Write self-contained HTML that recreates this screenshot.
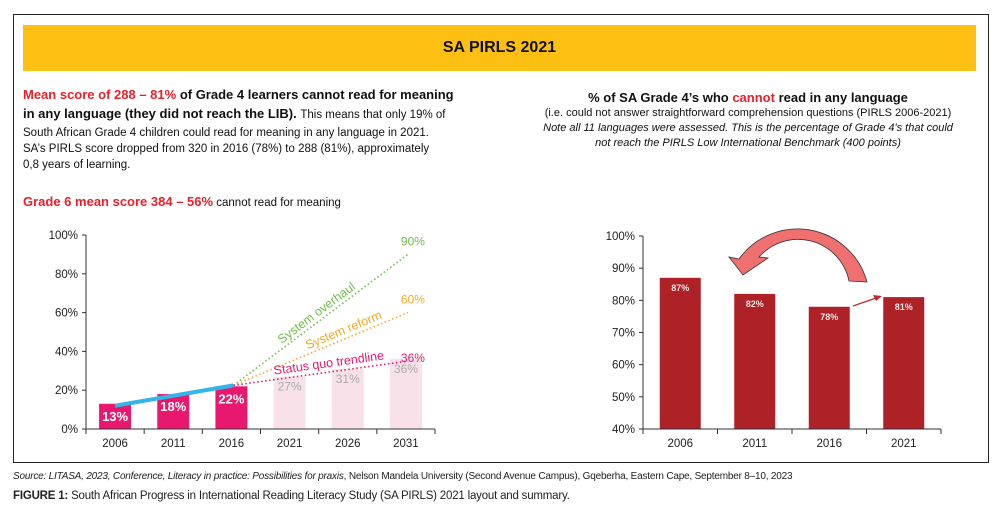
<!DOCTYPE html>
<html><head><meta charset="utf-8"><style>
body{margin:0;width:996px;height:518px;background:#fff;font-family:"Liberation Sans",sans-serif;position:relative;overflow:hidden}
.abs{position:absolute}
#frame{left:13px;top:14px;width:976px;height:449px;border:1px solid #222;box-sizing:border-box}
#banner{left:23px;top:25px;width:953px;height:46px;background:#fcbf12;text-align:center;line-height:46px;font-weight:bold;font-size:16px;color:#111}
.t{font-size:11.5px;color:#111;line-height:16px}
.red{color:#e8202a}
</style></head><body>
<div id="frame" class="abs"></div>
<div id="banner" class="abs">SA PIRLS 2021</div>
<div class="abs t" style="left:23px;top:85px;width:445px;">
<div style="font-size:13px;font-weight:bold;line-height:19px"><span class="red">Mean score of 288 – 81%</span> of Grade 4 learners cannot read for meaning in any language (they did not reach the LIB). <span style="font-weight:normal;font-size:11.5px">This means that only 19% of</span></div>
<div>South African Grade 4 children could read for meaning in any language in 2021.<br>SA’s PIRLS score dropped from 320 in 2016 (78%) to 288 (81%), approximately<br>0,8 years of learning.</div>
</div>
<div class="abs" style="left:23px;top:194px;font-size:11.5px;color:#111"><span class="red" style="font-weight:bold;font-size:13px">Grade 6 mean score 384 – 56%</span> cannot read for meaning</div>
<div class="abs" style="left:500px;top:89px;width:496px;text-align:center;font-size:11px;color:#111;line-height:15px">
<div style="font-weight:bold;font-size:13px;line-height:17px">% of SA Grade 4’s who <span class="red">cannot</span> read in any language</div>
<div>(i.e. could not answer straightforward comprehension questions (PIRLS 2006-2021)</div>
<div style="font-style:italic">Note all 11 languages were assessed. This is the percentage of Grade 4's that could<br>not reach the PIRLS Low International Benchmark (400 points)</div>
</div>
<svg class="abs" style="left:0;top:0" width="996" height="518" id="svg"></svg>
<div class="abs" style="left:13px;top:471px;font-size:10px;color:#222;font-stretch:condensed;letter-spacing:-0.2px"><i>Source: LITASA, 2023, Conference, Literacy in practice: Possibilities for praxis</i>, Nelson Mandela University (Second Avenue Campus), Gqeberha, Eastern Cape, September 8–10, 2023</div>
<div class="abs" style="left:13px;top:490px;font-size:11.5px;color:#222;letter-spacing:-0.2px"><b>FIGURE 1:</b> South African Progress in International Reading Literacy Study (SA PIRLS) 2021 layout and summary.</div>
<script>
const leftYears=["2006","2011","2016","2021","2026","2031"];
const leftValues=[13,18,22,27,31,36];
const leftTicks=[0,20,40,60,80,100];
const projLabels=["90%","60%","36%"];
const projValues=[90,60,35];
const projNames=["System overhaul","System reform","Status quo trendline"];
const rightYears=["2006","2011","2016","2021"];
const rightValues=[87,82,78,81];
const rightTicks=[40,50,60,70,80,90,100];

const NS="http://www.w3.org/2000/svg";
const svg=document.getElementById('svg');
function mk(tag,attrs,parent){const e=document.createElementNS(NS,tag);for(const k in attrs)e.setAttribute(k,attrs[k]);(parent||svg).appendChild(e);return e;}
function txt(x,y,s,attrs){const e=mk('text',Object.assign({x:x,y:y,'font-family':'Liberation Sans, sans-serif'},attrs));e.textContent=s;return e;}

// left chart
const L={x0:86,x1:435,y0:429,y1:235};
const lx=i=>L.x0+(i+0.5)*(L.x1-L.x0)/leftYears.length;
const ly=v=>L.y0-(v/100)*(L.y0-L.y1);
const lbw=32;
leftValues.forEach((v,i)=>{
  const past=i<3;
  const r=mk('rect',{x:lx(i)-lbw/2,y:ly(v),width:lbw,height:L.y0-ly(v),fill:past?'#e8186f':'#f8e1e8'});
  
  
  const t=txt(lx(i),past?ly(v)+17:ly(v)+14,v+'%',{'text-anchor':'middle','font-size':past?13:12,'font-weight':past?'bold':'normal',fill:past?'#fff':'#aaa'});
  
  
});
mk('line',{x1:L.x0,y1:L.y1,x2:L.x0,y2:L.y0,stroke:'#333'});
mk('line',{x1:L.x0,y1:L.y0,x2:L.x1,y2:L.y0,stroke:'#333'});
leftTicks.forEach(v=>{mk('line',{x1:L.x0-4,y1:ly(v),x2:L.x0,y2:ly(v),stroke:'#333'});
  const t=txt(L.x0-8,ly(v)+4,v+'%',{'text-anchor':'end','font-size':11.5,fill:'#222'});
  });
for(let i=0;i<=leftYears.length;i++){const x=L.x0+i*(L.x1-L.x0)/leftYears.length;mk('line',{x1:x,y1:L.y0,x2:x,y2:L.y0+5,stroke:'#333'});}
leftYears.forEach((y,i)=>{const t=txt(lx(i),L.y0+18,y,{'text-anchor':'middle','font-size':11.5,fill:'#222'});
  });
// projections
const projColors=['#6cbf4a','#f6a623','#e8186f'];
const sx=lx(2)+2, sy=ly(leftValues[2]+0.5), ex=lx(5)+2;
projValues.forEach((v,k)=>{
  const l=mk('line',{x1:sx,y1:sy,x2:ex,y2:ly(v),stroke:projColors[k],'stroke-width':1.6,'stroke-dasharray':'1.5 2.5'});
  
  const lab=txt(ex+5,ly(v)-(k==2?-1:9),projLabels[k],{'text-anchor':'middle','font-size':12,fill:projColors[k]});
  
  const ang=Math.atan2(ly(v)-sy,ex-sx)*180/Math.PI;
  const f=[0.49,0.64,0.55][k], mx=sx+(ex-sx)*f, my=sy+(ly(v)-sy)*f-5;
  const n=txt(mx,my,projNames[k],{'text-anchor':'middle','font-size':12.5,fill:projColors[k],transform:`rotate(${ang} ${mx} ${my})`});
  
});
const bl=mk('line',{x1:lx(0),y1:ly(leftValues[0]-1),x2:lx(2)+2,y2:ly(leftValues[2]+0.5),stroke:'#33b5e5','stroke-width':4});


// right chart
const R={x0:643,x1:941,y0:429,y1:236,vmin:40,vmax:100};
const rx=i=>R.x0+(i+0.5)*(R.x1-R.x0)/rightYears.length;
const ry=v=>R.y0-(v-R.vmin)/(R.vmax-R.vmin)*(R.y0-R.y1);
const rbw=41;
rightValues.forEach((v,i)=>{
  const r=mk('rect',{x:rx(i)-rbw/2,y:ry(v),width:rbw,height:R.y0-ry(v),fill:'#ad2127'});
  
  const t=txt(rx(i),ry(v)+13,v+'%',{'text-anchor':'middle','font-size':9,'font-weight':'bold',fill:'#f4e6e6'});
  
});
mk('line',{x1:R.x0,y1:R.y1,x2:R.x0,y2:R.y0,stroke:'#333'});
mk('line',{x1:R.x0,y1:R.y0,x2:R.x1,y2:R.y0,stroke:'#333'});
rightTicks.forEach(v=>{mk('line',{x1:R.x0-4,y1:ry(v),x2:R.x0,y2:ry(v),stroke:'#333'});
  const t=txt(R.x0-8,ry(v)+4,v+'%',{'text-anchor':'end','font-size':11.5,fill:'#222'});
  });
for(let i=0;i<=rightYears.length;i++){const x=R.x0+i*(R.x1-R.x0)/rightYears.length;mk('line',{x1:x,y1:R.y0,x2:x,y2:R.y0+5,stroke:'#333'});}
rightYears.forEach((y,i)=>{const t=txt(rx(i),R.y0+18,y,{'text-anchor':'middle','font-size':11.5,fill:'#222'});
  });
// curved arrow
const ca=mk('g',{});

mk('path',{d:'M867,282 L849,281 A52,52 0 0 0 759,257 L768,258 L743,275 L729,257 L739,259 A72,72 0 0 1 867,282 Z',fill:'#f07070',stroke:'#333','stroke-width':0.8},ca);
const sa=mk('g',{});

mk('line',{x1:853,y1:306,x2:876,y2:298,stroke:'#c0282e','stroke-width':1.2},sa);
mk('polygon',{points:'882,296 873,295 876,301',fill:'#c0282e'},sa);
</script>
</body></html>
